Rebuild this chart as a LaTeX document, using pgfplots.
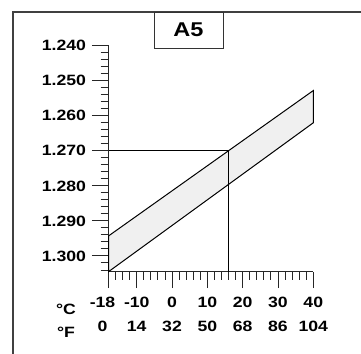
\documentclass[border=0pt]{standalone}
\usepackage{pgfplots}
\pgfplotsset{compat=1.18}
\usepackage{fontspec}
\setmainfont{Liberation Sans}[FakeStretch=1.18]
\begin{document}
\begin{tikzpicture}[x=1bp,y=1bp]
\useasboundingbox (0,0) rectangle (361,354);
\draw[line width=1.1bp, black!75] (13,-2) -- (13,342) -- (363,342);
\begin{axis}[
  at={(108.5bp,82.3bp)}, anchor=south west,
  scale only axis, width=204.8bp, height=226bp,
  xmin=-18, xmax=40, ymin=1.240, ymax=1.3045, y dir=reverse,
  axis x line*=bottom, axis y line*=left,
  axis line style={line width=1.2bp, black!85, -},
  tick align=outside,
  major tick length=16.5bp, minor tick length=8bp,
  tick style={line width=0.9bp, black!85},
  xtick={-18,-10,0,10,20,30,40},
  minor xtick={-16,-14,-12,-8,-6,-4,-2,2,4,6,8,12,14,16,18,22,24,26,28,32,34,36,38},
  xticklabels={{\hspace*{-12bp}-18\\\hspace*{-12bp}0},{-10\\14},{0\\32},{10\\50},{20\\68},{30\\86},{40\\104}},
  xticklabel style={align=center, yshift=-5bp, font=\fontsize{15}{24}\selectfont\bfseries},
  ytick={1.240,1.250,1.260,1.270,1.280,1.290,1.300},
  minor ytick={1.242,1.244,1.246,1.248,1.252,1.254,1.256,1.258,1.262,1.264,1.266,1.268,1.272,1.274,1.276,1.278,1.282,1.284,1.286,1.288,1.292,1.294,1.296,1.298,1.302,1.304},
  yticklabels={1.240,1.250,1.260,1.270,1.280,1.290,1.300},
  yticklabel style={xshift=-2.5bp, font=\fontsize{15}{16}\selectfont\bfseries},
  clip=false,
]
\addplot[draw=black, line width=1bp, fill=black!6] coordinates {(-18,1.2943) (40,1.2528) (40,1.2620) (-18,1.3045)} -- cycle;
\addplot[draw=black, line width=1bp] coordinates {(-18,1.270) (16,1.270) (16,1.3045)};
\end{axis}
\node[align=center, font=\fontsize{15}{24}\selectfont\bfseries] at (66,33.2) {°C\\°F};
\draw[line width=0.9bp, black!80, fill=white] (154,306) rectangle (223,342);
\node[font=\fontsize{20}{22}\selectfont\bfseries] at (188.5,324.5) {A5};
\end{tikzpicture}
\end{document}
